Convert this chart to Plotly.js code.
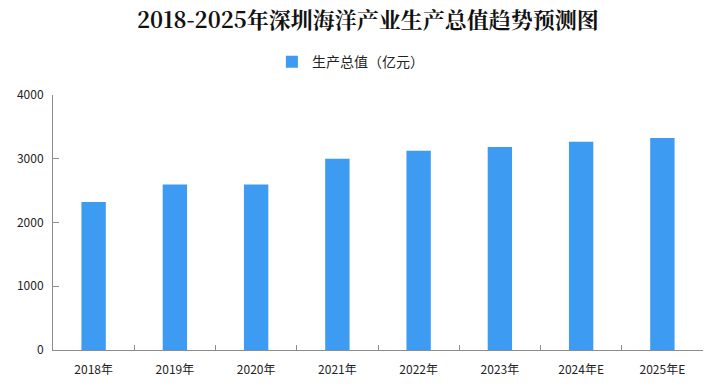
<!DOCTYPE html>
<html>
<head>
<meta charset="utf-8">
<script src="https://cdn.plot.ly/plotly-3.0.1.min.js"></script>
<style>html,body{margin:0;padding:0;background:#fff;}#chart{width:718px;height:384px;}</style>
</head>
<body>
<div id="chart"></div>
<script>
const categories = ["2018年","2019年","2020年","2021年","2022年","2023年","2024年E","2025年E"];
const values = [2320, 2595, 2595, 3000, 3125, 3185, 3265, 3325];
const seriesName = "生产总值（亿元）";
const titleText = "2018-2025年深圳海洋产业生产总值趋势预测图";
const yTicks = [0, 1000, 2000, 3000, 4000];

const cjk = '"Noto Sans CJK SC", "DejaVu Sans", sans-serif';

const data = [{
  type: "bar",
  x: categories,
  y: values,
  name: seriesName,
  marker: { color: "#3E9BF2" },
  width: 0.3,
  showlegend: true
}];

const layout = {
  width: 718,
  height: 384,
  margin: { l: 53, r: 15, t: 95, b: 34 },
  paper_bgcolor: "#ffffff",
  plot_bgcolor: "#ffffff",
  font: { family: cjk, size: 12, color: "#222" },
  title: {
    text: titleText,
    x: 0.5125, xref: "container", xanchor: "center",
    y: 0.948, yref: "container", yanchor: "middle",
    font: { family: '"Noto Serif CJK SC", "Noto Sans CJK SC", serif', size: 22, color: "#111", weight: "bold" }
  },
  showlegend: true,
  legend: {
    orientation: "h",
    x: 0.488, xref: "container", xanchor: "center",
    y: 0.838, yref: "container", yanchor: "middle",
    font: { family: cjk, size: 14, color: "#222" },
    itemwidth: 30
  },
  xaxis: {
    type: "category",
    showline: true, linecolor: "#8c8c8c", linewidth: 1,
    ticks: "inside", tickson: "boundaries", ticklen: 5, tickcolor: "#8c8c8c",
    showgrid: false, zeroline: false,
    tickfont: { family: cjk, size: 12, color: "#222" },
    ticklabelstandoff: 9,
    mirror: false
  },
  yaxis: {
    range: [0, 4000],
    tickvals: yTicks,
    showline: true, linecolor: "#8c8c8c", linewidth: 1,
    ticks: "inside", ticklen: 6, tickcolor: "#8c8c8c",
    showgrid: false, zeroline: false,
    tickfont: { family: cjk, size: 12, color: "#222" },
    ticklabelstandoff: 6
  },
  bargap: 0.7
};

Plotly.newPlot("chart", data, layout, { staticPlot: true, displayModeBar: false });
</script>
</body>
</html>
